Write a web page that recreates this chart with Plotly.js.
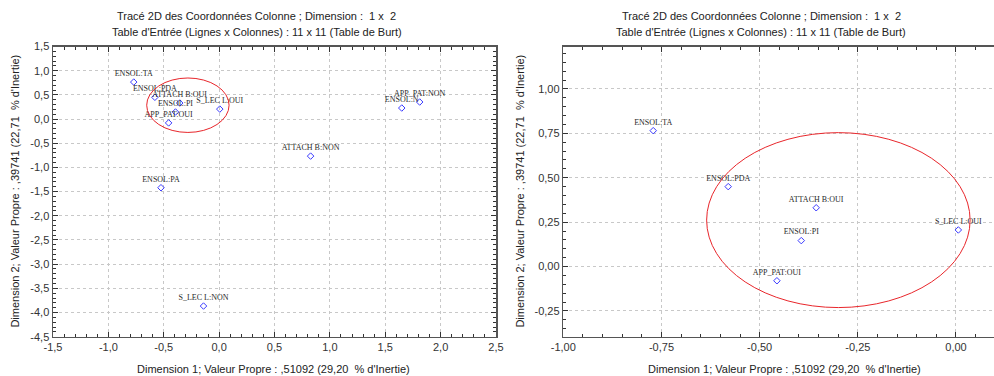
<!DOCTYPE html>
<html>
<head>
<meta charset="utf-8">
<script src="https://cdn.plot.ly/plotly-3.0.1.min.js"></script>
<style>
html,body{margin:0;padding:0;background:#fff;}
#chart{width:994px;height:376px;}
</style>
</head>
<body>
<div id="chart"></div>
<script>
// Column categories and their coordinates on the first two dimensions
const labels = ["ENSOL:TA","ENSOL:PDA","ATTACH B:OUI","ENSOL:PI","APP_PAT:OUI","S_LEC L:OUI","ENSOL:N","APP_PAT:NON","ATTACH B:NON","ENSOL:PA","S_LEC L:NON"];
const dim1 = [-0.771,-0.580,-0.356,-0.394,-0.456,0.006,1.649,1.811,0.826,-0.525,-0.141];
const dim2 = [0.765,0.450,0.331,0.146,-0.080,0.206,0.228,0.352,-0.766,-1.420,-3.866];

// Highlight ellipse bounds (data units)
const ellipseLeft = {x0:-0.654, x1:0.090, y0:-0.277, y1:0.849};
const ellipseRight = {x0:-0.635, x1:0.036, y0:-0.231, y1:0.754};

// Tick labels
const leftXTicks = [-1.5,-1.0,-0.5,0.0,0.5,1.0,1.5,2.0,2.5];
const leftYTicks = [1.5,1.0,0.5,0.0,-0.5,-1.0,-1.5,-2.0,-2.5,-3.0,-3.5,-4.0,-4.5];
const rightXTicks = [-1.00,-0.75,-0.50,-0.25,0.00];
const rightYTicks = [1.00,0.75,0.50,0.25,0.00,-0.25];

const titleLine1 = "Tracé 2D des Coordonnées Colonne ; Dimension :  1 x  2";
const titleLine2 = "Table d'Entrée (Lignes x Colonnes) : 11 x 11 (Table de Burt)";
const xTitle = "Dimension 1; Valeur Propre : ,51092 (29,20 \u00a0% d'Inertie)";
const yTitle = "Dimension 2; Valeur Propre : ,39741 (22,71 \u00a0% d'Inertie)";

function fmt(v, d){ return v.toFixed(d).replace('.', ','); }

const W = 994, H = 376;
const sans = "Liberation Sans, Arial, sans-serif";
const tickFont = {family: sans, size: 11, color: "#333"};
const axisLine = "#555";

function axis(domain, range, ticks, dec, minorD, mirror){
  return {
    domain: domain, range: range, autorange: false,
    tickmode: "array", tickvals: ticks, ticktext: ticks.map(v => fmt(v, dec)),
    ticks: "inside", ticklen: 5, tickwidth: 1, tickcolor: "#333",
    minor: {dtick: minorD, tick0: 0, ticks: "inside", ticklen: 3, tickcolor: "#333", showgrid: false},
    showgrid: true, gridcolor: "#c8c8c8", griddash: "dot", gridwidth: 1,
    zeroline: false, showline: true, linecolor: axisLine, linewidth: 1.5,
    mirror: mirror, tickfont: tickFont, fixedrange: true
  };
}

const yDom = [(H-336.7)/H, (H-46.5)/H];
const layout = {
  width: W, height: H,
  margin: {l:0, r:0, t:0, b:0},
  paper_bgcolor: "#fff", plot_bgcolor: "#fff",
  showlegend: false,
  xaxis: axis([53/W, 496/W], [-1.5, 2.5], leftXTicks, 1, 0.1, "allticks"),
  yaxis: axis(yDom, [-4.5, 1.5], leftYTicks, 1, 0.1, "allticks"),
  xaxis2: Object.assign(axis([563.3/W, 1], [-1.0, 0.0968], rightXTicks, 2, 0.05, "allticks"), {anchor: "y2"}),
  yaxis2: Object.assign(axis(yDom, [-0.395, 1.239], rightYTicks, 2, 0.05, false), {anchor: "x2"}),
  shapes: [
    {type: "circle", xref: "x", yref: "y", x0: ellipseLeft.x0, x1: ellipseLeft.x1, y0: ellipseLeft.y0, y1: ellipseLeft.y1,
     line: {color: "#e8262b", width: 1}},
    {type: "circle", xref: "x2", yref: "y2", x0: ellipseRight.x0, x1: ellipseRight.x1, y0: ellipseRight.y0, y1: ellipseRight.y1,
     line: {color: "#e8262b", width: 1}}
  ],
  annotations: [
    {text: titleLine1, x: 256.5/W, y: 1-15.7/H, xref: "paper", yref: "paper", showarrow: false, xanchor: "center", yanchor: "middle", font: {family: sans, size: 11, color: "#222"}},
    {text: titleLine2, x: 256.5/W, y: 1-32.3/H, xref: "paper", yref: "paper", showarrow: false, xanchor: "center", yanchor: "middle", font: {family: sans, size: 11, color: "#222"}},
    {text: titleLine1, x: 761/W, y: 1-15.7/H, xref: "paper", yref: "paper", showarrow: false, xanchor: "center", yanchor: "middle", font: {family: sans, size: 11, color: "#222"}},
    {text: titleLine2, x: 761/W, y: 1-32.3/H, xref: "paper", yref: "paper", showarrow: false, xanchor: "center", yanchor: "middle", font: {family: sans, size: 11, color: "#222"}},
    {text: xTitle, x: 273/W, y: 1-369/H, xref: "paper", yref: "paper", showarrow: false, xanchor: "center", yanchor: "middle", font: {family: sans, size: 11, color: "#222"}},
    {text: xTitle, x: 784/W, y: 1-369/H, xref: "paper", yref: "paper", showarrow: false, xanchor: "center", yanchor: "middle", font: {family: sans, size: 11, color: "#222"}},
    {text: yTitle, x: 15/W, y: 1-191.6/H, xref: "paper", yref: "paper", showarrow: false, textangle: -90, xanchor: "center", yanchor: "middle", font: {family: sans, size: 11, color: "#222"}},
    {text: yTitle, x: 520/W, y: 1-191.6/H, xref: "paper", yref: "paper", showarrow: false, textangle: -90, xanchor: "center", yanchor: "middle", font: {family: sans, size: 11, color: "#222"}}
  ]
};

function pointTrace(xa, ya){
  return {
    type: "scatter", mode: "markers+text", x: dim1, y: dim2, text: labels,
    xaxis: xa, yaxis: ya, textposition: "top center",
    textfont: {family: "Liberation Serif, Times New Roman, serif", size: 8, color: "#2a2a2a"},
    marker: {symbol: "diamond-open", size: 5, color: "#3a3aff", line: {width: 1, color: "#3a3aff"}},
    hoverinfo: "none", cliponaxis: true
  };
}

const data = [pointTrace("x", "y"), pointTrace("x2", "y2")];
Plotly.newPlot("chart", data, layout, {staticPlot: true, displayModeBar: false});
</script>
</body>
</html>
